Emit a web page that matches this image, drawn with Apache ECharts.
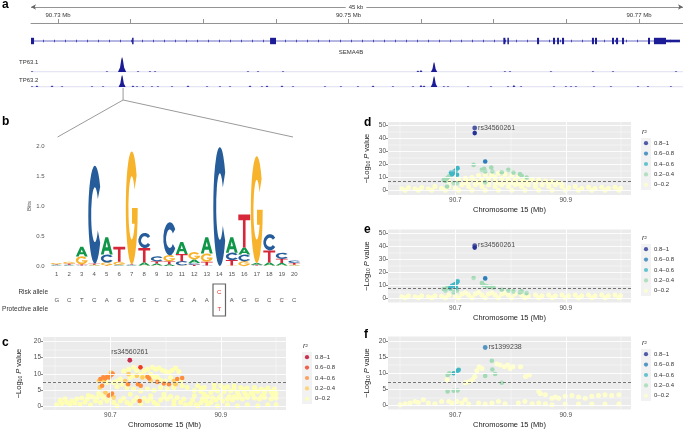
<!DOCTYPE html>
<html><head><meta charset="utf-8">
<script src="https://cdn.jsdelivr.net/npm/echarts@6/dist/echarts.min.js"></script>
<style>html,body{margin:0;padding:0;background:#fff}#chart{width:683px;height:430px}</style>
</head><body><div id="chart"></div>
<script>
// ---------------- Panel a: genome browser ----------------
const regionStart = 90.72814, regionEnd = 90.77303;
const regionLabel = '45 kb';
const rulerTicks = [90.730,90.735,90.740,90.745,90.750,90.755,90.760,90.765,90.770];
const rulerLabels = [90.73,90.75,90.77];
const geneName = 'SEMA4B';
const geneSpan = [90.72821, 90.77282];
// [start Mb, end Mb, coding(1)/UTR(0)]
const exons = [[90.72814,90.72835,1],[90.73510,90.73520,1],[90.74460,90.74501,1],[90.76066,90.76080,1],[90.76094,90.76102,1],[90.76298,90.76312,1],[90.76408,90.76422,1],[90.76436,90.76449,1],[90.76470,90.76484,1],[90.76676,90.76690,1],[90.76697,90.76711,1],[90.76814,90.76828,1],[90.76842,90.76856,1],[90.76883,90.76897,1],[90.77062,90.77076,1],[90.77103,90.77186,1],[90.77186,90.77282,0]];
const trackNames = ['TP63.1','TP63.2'];
// [position Mb, coverage]
const tp631Peaks = [[90.72821,1],[90.73337,1],[90.73441,15],[90.73551,1],[90.73633,1],[90.73668,1],[90.74308,1],[90.74377,1],[90.74549,1],[90.75478,1.5],[90.75499,2],[90.75589,10],[90.76077,1],[90.76112,1],[90.76394,1],[90.76683,1],[90.76821,1],[90.77255,1]];
const tp632Peaks = [[90.72821,1],[90.72855,1.5],[90.72959,1.5],[90.73028,1],[90.73234,1],[90.73310,1],[90.73441,12],[90.73516,1.5],[90.73544,1],[90.73585,1],[90.73647,1],[90.73688,1],[90.73785,1],[90.73895,1.5],[90.74026,1],[90.74115,1],[90.74184,1],[90.74322,1.5],[90.74404,1],[90.74439,1.5],[90.74542,1.5],[90.74618,1],[90.74838,1],[90.74948,1],[90.75065,1],[90.75169,1.5],[90.75306,1],[90.75444,1],[90.75499,2],[90.75520,1.5],[90.75589,11],[90.75657,1],[90.75685,1],[90.75823,1],[90.75981,1],[90.76098,1],[90.76139,2],[90.76188,1],[90.76415,1],[90.76497,1],[90.76532,1],[90.76566,1],[90.76690,1],[90.76807,1],[90.76993,1],[90.77062,1],[90.77220,1]];
const motifSite = 90.73448;
const zoomSpan = [90.72997, 90.74618];

// ---------------- Panel b: motif logo ----------------
const positions = [1,2,3,4,5,6,7,8,9,10,11,12,13,14,15,16,17,18,19,20];
const bitsA = [0.01,0.01,0.16,0.01,0.29,0.01,0.01,0.05,0.03,0.03,0.20,0.06,0.27,0.00,0.26,0.12,0.03,0.05,0.04,0.01];
const bitsC = [0.01,0.01,0.01,1.63,0.13,0.01,0.01,0.25,0.08,0.55,0.07,0.03,0.01,1.98,0.12,0.11,0.01,0.27,0.10,0.04];
const bitsG = [0.02,0.03,0.13,0.01,0.05,0.05,1.88,0.01,0.01,0.10,0.01,0.12,0.14,0.00,0.01,0.08,1.78,0.01,0.01,0.01];
const bitsT = [0.01,0.02,0.02,0.02,0.01,0.25,0.01,0.24,0.04,0.05,0.12,0.02,0.06,0.00,0.09,0.55,0.01,0.20,0.07,0.03];
const refSeq = ['G','C','T','C','A','G','G','C','C','C','C','A','A','','A','G','G','C','C','C'];
const snpPos = 14, riskAllele = 'C', protectiveAllele = 'T';
const logoTicks = [0,0.5,1,1.5,2];

// ---------------- Panels c-f: regional association ----------------
const r2Classes = ['0–0.2','0.2–0.4','0.4–0.6','0.6–0.8','0.8–1'];
const xTicks = [90.7, 90.9];
const xMinor = [90.6, 90.8, 91.0];
const gwsThreshold = 7.3;
const yTicks20 = [0,5,10,15,20], yMinor20 = [2.5,7.5,12.5,17.5];
const yTicks50 = [0,10,20,30,40,50], yMinor50 = [5,15,25,35,45];

const cR0 = [[90.724,10.9],[90.733,11.4],[90.742,12.0],[90.748,11.1],[90.761,10.9],[90.767,11.4],[90.776,12.0],[90.782,11.4],[90.788,11.8],[90.794,11.1],[90.800,10.7],[90.806,10.4],[90.812,11.1],[90.818,11.8],[90.824,10.7],[90.773,9.9],[90.779,9.1],[90.785,8.9],[90.791,8.0],[90.800,7.8],[90.809,8.9],[90.827,7.8],[90.712,7.8],[90.718,8.4],[90.706,7.3],[90.736,8.9],[90.742,9.4],[90.755,9.9],[90.761,9.1],[90.694,7.3],[90.721,6.8],[90.712,6.0],[90.730,5.8],[90.742,5.3],[90.755,4.7],[90.767,5.3],[90.779,4.9],[90.791,5.8],[90.803,5.3],[90.815,5.8],[90.830,6.3],[90.839,5.8],[90.736,3.7],[90.773,3.2],[90.797,3.7],[90.685,3.2],[90.679,3.9],
[90.858,6.3],[90.870,5.8],[90.888,6.6],[90.900,6.3],[90.912,6.0],[90.924,6.3],[90.936,5.8],[90.948,5.6],[90.961,5.8],[90.973,5.3],[90.985,5.6],[90.997,5.3],[90.864,4.5],[90.882,4.2],[90.894,4.7],[90.906,4.5],[90.918,4.7],[90.930,4.2],[90.942,4.5],[90.955,4.2],[90.967,4.5],[90.979,4.2],[90.991,4.5],[91.000,3.9],[90.852,3.2],[90.876,2.9],[90.900,3.2],[90.924,2.9],[90.948,3.2],[90.973,2.9],[90.997,2.9],
[90.603,0.4],[90.612,0.8],[90.621,1.1],[90.630,1.6],[90.639,2.2],[90.648,2.5],[90.658,2.2],[90.667,2.9],[90.673,1.6],[90.627,0.4],[90.645,0.6],[90.664,0.4],[90.682,1.1],[90.694,1.6],[90.706,1.1],[90.718,1.6],[90.730,1.1],[90.742,1.6],[90.755,0.8],[90.767,1.6],[90.779,1.1],[90.791,1.9],[90.803,2.2],[90.815,1.6],[90.827,1.1],[90.836,0.4],[90.845,0.8],[90.855,0.4],[90.864,1.1],[90.873,1.6],[90.882,1.1],[90.891,1.9],[90.903,1.6],[90.912,2.2],[90.921,1.9],[90.930,2.5],[90.939,2.2],[90.948,2.7],[90.961,2.5],[90.970,2.2],[90.979,2.7],[90.991,2.2],[91.000,2.5],[90.858,0.1],[90.876,0.4],[90.894,0.1],[90.912,0.4],[90.930,0.1],[90.948,0.4],[90.967,0.1],[90.985,0.4],[91.000,0.4],[90.712,0.1],[90.736,0.4],[90.785,0.4],[90.815,0.4],
[90.609,1.8],[90.618,2.3],[90.636,1.0],[90.654,1.2],[90.660,3.3],[90.676,2.6],[90.688,2.4],[90.700,2.6],[90.724,2.4],[90.748,2.6],[90.761,2.4],[90.773,2.3],[90.797,2.8],[90.809,3.0],[90.821,2.6],[90.833,2.2],[90.849,1.9],[90.867,2.3],[90.885,2.6],[90.897,2.6],[90.915,3.0],[90.933,3.4],[90.945,3.6],[90.958,3.5],[90.976,3.4],[90.994,3.6],[90.852,4.8],[90.864,5.5],[90.870,3.7],[90.888,5.2],[90.906,5.5],[90.924,5.3],[90.942,5.2],[90.961,4.9],[90.979,4.9],[90.997,4.4]];
const cR2 = [[90.679,7.8],[90.688,7.8],[90.701,10.4],[90.681,5.8],[90.727,7.8],[90.748,9.4],[90.758,8.9],[90.733,9.9],[90.773,7.8],[90.815,7.8],[90.691,4.2],[90.706,2.7],[90.818,6.8]];
const cR4 = [[90.682,8.4],[90.687,8.9],[90.691,8.6],[90.694,9.1],[90.698,8.9],[90.702,9.7],[90.704,10.1],[90.685,6.3],[90.697,3.2],[90.700,3.5],[90.703,3.9],[90.732,6.8],[90.750,6.8],[90.755,6.3],[90.767,9.1],[90.770,8.6],[90.785,7.5],[90.797,7.0],[90.806,6.8],[90.821,8.4],[90.830,8.7],[90.753,1.6]];
const cR6 = [[90.7545,12.0]];
const cR8 = [];
const cLead = {name:'rs34560261', value:[90.7352,14.2], cls:4};

const dR0 = [[90.688,6.9],[90.706,8.2],[90.718,9.5],[90.730,10.0],[90.742,11.5],[90.754,12.1],[90.766,12.1],[90.778,13.3],[90.790,12.6],[90.802,11.5],[90.814,10.8],[90.826,9.5],[90.839,8.7],[90.851,8.2],[90.863,7.4],[90.875,6.9],[90.887,6.2],[90.724,6.9],[90.736,7.4],[90.748,8.7],[90.760,9.0],[90.772,10.0],[90.784,9.5],[90.796,9.0],[90.808,8.2],[90.820,7.4],[90.832,6.4],[90.772,6.9],[90.790,6.4],
[90.603,1.3],[90.615,2.3],[90.627,1.3],[90.639,2.3],[90.651,1.3],[90.663,3.1],[90.675,1.8],[90.688,3.1],[90.700,1.8],[90.712,4.4],[90.724,3.1],[90.736,4.4],[90.748,3.1],[90.760,4.4],[90.772,3.1],[90.784,4.4],[90.796,3.1],[90.808,4.4],[90.820,3.1],[90.832,4.4],[90.845,3.1],[90.857,4.4],[90.869,3.1],[90.881,4.4],[90.893,3.1],[90.905,2.3],[90.917,3.1],[90.929,1.8],[90.941,2.6],[90.953,1.8],[90.965,2.6],[90.977,1.8],[90.989,2.6],[90.999,1.8],
[90.609,0.3],[90.633,0.3],[90.657,0.3],[90.682,0.3],[90.706,0.3],[90.730,0.3],[90.754,0.3],[90.778,0.3],[90.802,0.3],[90.826,0.3],[90.851,0.3],[90.875,0.3],[90.899,0.3],[90.923,0.3],[90.947,0.3],[90.971,0.3],[90.996,0.3],
[90.700,5.5],[90.718,6.0],[90.742,6.0],[90.760,6.5],[90.800,6.0],[90.826,5.6],[90.845,6.0],[90.869,5.4],[90.893,4.9],[90.748,5.2],[90.778,5.8],[90.814,5.2]];
const dR2 = [[90.733,19.7],[90.748,15.9],[90.752,16.7],[90.754,14.6],[90.765,17.7],[90.767,14.6],[90.784,14.1],[90.796,15.9],[90.805,13.8],[90.817,12.6],[90.820,11.3],[90.829,10.0],[90.679,8.2],[90.685,9.5],[90.688,10.8],[90.691,11.5],[90.682,7.4],[90.697,5.6],[90.703,5.6],[90.754,6.2],[90.685,3.1]];
const dR4 = [[90.692,13.8],[90.695,13.3],[90.698,14.6],[90.701,15.6],[90.704,17.2],[90.703,12.1],[90.694,12.6]];
const dR6 = [[90.754,22.3]];
const dR8 = [[90.735,44.1]];
const dLead = {name:'rs34560261', value:[90.735,48.0], cls:4};

const eR0 = [[90.603,1.0],[90.615,1.8],[90.627,1.0],[90.639,1.8],[90.651,1.0],[90.663,1.8],[90.675,1.3],[90.688,2.3],[90.700,1.8],[90.712,3.1],[90.724,2.3],[90.736,3.1],[90.748,2.3],[90.760,3.1],[90.772,2.3],[90.784,3.1],[90.796,2.3],[90.808,3.1],[90.820,2.3],[90.832,1.8],[90.845,2.3],[90.857,1.8],[90.869,2.3],[90.881,1.8],[90.893,2.3],[90.905,1.8],[90.917,2.3],[90.929,1.8],[90.941,2.3],[90.953,1.8],[90.965,2.3],[90.977,1.8],[90.989,2.3],[90.999,1.8],
[90.609,0.3],[90.633,0.3],[90.657,0.3],[90.682,0.3],[90.706,0.3],[90.730,0.3],[90.754,0.3],[90.778,0.3],[90.802,0.3],[90.826,0.3],[90.851,0.3],[90.875,0.3],[90.899,0.3],[90.923,0.3],[90.947,0.3],[90.971,0.3],[90.996,0.3],[90.718,4.0],[90.742,4.2],[90.766,4.0],[90.790,3.8]];
const eR2 = [[90.733,15.4],[90.748,11.5],[90.751,10.0],[90.757,9.0],[90.765,8.7],[90.769,8.2],[90.784,6.4],[90.796,5.6],[90.805,5.1],[90.817,4.4],[90.820,5.1],[90.829,3.8],[90.679,6.9],[90.685,7.9],[90.691,6.9],[90.697,4.4],[90.703,5.6],[90.682,5.6]];
const eR4 = [[90.694,9.5],[90.697,10.0],[90.700,10.8],[90.703,12.1],[90.704,13.1],[90.691,8.2],[90.701,8.2]];
const eR6 = [[90.754,15.1]];
const eR8 = [[90.735,38.7]];
const eLead = {name:'rs34560261', value:[90.735,40.3], cls:4};

const fR0 = [[90.685,8.0],[90.718,7.1],[90.724,7.4],[90.731,8.0],[90.735,9.0],[90.739,10.8],[90.743,12.0],[90.748,11.5],[90.775,12.9],[90.781,12.6],[90.789,12.0],[90.795,12.6],[90.799,11.5],[90.804,12.0],[90.818,12.0],[90.827,9.0],[90.834,9.5],[90.600,0.3],[90.609,0.6],[90.618,0.8],[90.627,1.3],[90.633,1.0],[90.642,1.8],[90.651,0.8],[90.663,0.6],[90.675,1.3],[90.688,1.3],[90.694,0.8],[90.703,1.3],[90.712,0.8],[90.724,0.5],[90.742,0.8],[90.754,0.5],[90.766,0.8],[90.778,1.3],[90.790,0.6],[90.814,0.8],[90.826,1.3],[90.839,0.6],[90.851,4.4],[90.854,3.7],[90.863,3.4],[90.875,2.3],[90.881,2.7],[90.887,2.3],[90.899,2.9],[90.911,3.1],[90.923,2.7],[90.935,2.3],[90.947,2.9],[90.959,3.1],[90.971,3.4],[90.983,3.1],[90.996,3.4],[90.851,0.8],[90.863,0.6],[90.875,0.3],[90.899,0.5],[90.923,0.5],[90.947,0.5],[90.971,0.5],[90.996,0.5],[90.718,1.8]];
const fR2 = [[90.686,9.5],[90.689,10.0],[90.766,13.9],[90.767,11.2],[90.772,9.8],[90.754,9.2],[90.784,7.1],[90.686,4.4],[90.697,4.6],[90.704,4.7]];
const fR4 = [[90.697,10.0],[90.704,10.8],[90.706,11.1]];
const fR6 = [];
const fR8 = [];
const fLead = {name:'rs1399238', value:[90.754,18.0], cls:3};

// ---------------- styling ----------------
const FONT = '"Liberation Sans", Arial, sans-serif';
const NAVY = '#1c1c96';
const palC = ['#ffffb2','#fecc5c','#fd8d3c','#f03b20','#bd0026'];
const palBlue = ['#ffffcc','#a1dab4','#41b6c4','#2c7fb8','#253494'];
const baseColor = {A:'#109648', C:'#255C99', G:'#F7B32B', T:'#D62839'};
const glyph = {
  A:'M0,100 L38,0 L62,0 L100,100 L76,100 L68,78 L32,78 L24,100 Z M40,58 L60,58 L50,28 Z',
  T:'M0,0 L100,0 L100,18 L61,18 L61,100 L39,100 L39,18 L0,18 Z',
  C:'M91,21.3 A50,50 0 1 0 91,78.7 L72.9,66.1 A28,28 0 1 1 72.9,33.9 Z',
  G:'M91,21.3 A50,50 0 1 0 100,50 L52,50 L52,64 L74.2,64 A28,28 0 1 1 72.9,33.9 Z'
};
const bitsOf = {A:bitsA, C:bitsC, G:bitsG, T:bitsT};

const grid = [
  {left:31, top:0, width:652, height:140},
  {left:31, top:56, width:652, height:16},
  {left:31, top:71, width:652, height:16},
  {left:50.5, top:146, width:250, height:120},
  {left:50.5, top:283, width:250, height:34},
  {left:43, top:337, width:243, height:73, show:true, backgroundColor:'#ebebeb', borderWidth:0},
  {left:388, top:122, width:243, height:73, show:true, backgroundColor:'#ebebeb', borderWidth:0},
  {left:388, top:229.5, width:243, height:73, show:true, backgroundColor:'#ebebeb', borderWidth:0},
  {left:388, top:336.5, width:243, height:73, show:true, backgroundColor:'#ebebeb', borderWidth:0},
  {left:302, top:352, width:10, height:52, show:true, backgroundColor:'#f2f2f2', borderWidth:0},
  {left:641, top:138, width:10, height:52, show:true, backgroundColor:'#f2f2f2', borderWidth:0},
  {left:641, top:244, width:10, height:52, show:true, backgroundColor:'#f2f2f2', borderWidth:0},
  {left:641, top:349, width:10, height:52, show:true, backgroundColor:'#f2f2f2', borderWidth:0}
];

const xAxis = [], yAxis = [];
xAxis.push({gridIndex:0, type:'value', min:regionStart, max:regionEnd, position:'top', offset:-23,
  axisLine:{show:true, lineStyle:{color:'#777', width:0.8}},
  axisTick:{show:true, customValues:rulerTicks, length:4, lineStyle:{color:'#777', width:0.8}},
  axisLabel:{show:true, customValues:rulerLabels, formatter:v=>v.toFixed(2)+' Mb', fontSize:6, color:'#333', margin:5, fontFamily:FONT},
  splitLine:{show:false}});
yAxis.push({gridIndex:0, type:'value', min:0, max:140, inverse:true, show:false});
for (let g=1; g<=2; g++){
  xAxis.push({gridIndex:g, type:'value', min:regionStart, max:regionEnd, show:false});
  yAxis.push({gridIndex:g, type:'value', min:0, max:16, show:false});
}
xAxis.push({gridIndex:3, type:'value', min:0.5, max:20.5, axisLine:{show:false}, axisTick:{show:false}, splitLine:{show:false},
  axisLabel:{customValues:positions, fontSize:6, color:'#555', margin:5, fontFamily:FONT}});
yAxis.push({gridIndex:3, type:'value', min:0, max:2, axisLine:{show:false}, axisTick:{show:false}, splitLine:{show:false},
  axisLabel:{customValues:logoTicks, formatter:v=>v.toFixed(1), fontSize:6, color:'#555', margin:6, fontFamily:FONT},
  name:'Bits', nameLocation:'middle', nameGap:16, nameTextStyle:{fontSize:6, color:'#555', fontFamily:FONT}});
xAxis.push({gridIndex:4, type:'value', min:0.5, max:20.5, show:false});
yAxis.push({gridIndex:4, type:'value', min:0, max:34, inverse:true, show:false});
const yNameRich = '{a|−Log}{b|10}{a| }{c|P}{a| value}';
function assocAxes(g, ymin, ymax, yt){
  xAxis.push({gridIndex:g, type:'value', min:90.578, max:91.018, axisLine:{show:false}, splitLine:{show:false},
    axisTick:{show:true, customValues:xTicks, length:2, lineStyle:{color:'#333', width:0.6}},
    axisLabel:{customValues:xTicks, formatter:v=>v.toFixed(1), fontSize:6.5, color:'#4d4d4d', margin:2, fontFamily:FONT},
    name:'Chromosome 15 (Mb)', nameLocation:'middle', nameGap:11, nameTextStyle:{fontSize:7.5, color:'#222', fontFamily:FONT}});
  yAxis.push({gridIndex:g, type:'value', min:ymin, max:ymax, axisLine:{show:false}, splitLine:{show:false},
    axisTick:{show:true, customValues:yt, length:2, lineStyle:{color:'#333', width:0.6}},
    axisLabel:{customValues:yt, fontSize:6.5, color:'#4d4d4d', margin:2, fontFamily:FONT},
    name:yNameRich, nameLocation:'middle', nameRotate:90, nameGap:g===5?20:17,
    nameTextStyle:{fontSize:7.5, color:'#222', fontFamily:FONT,
      rich:{a:{fontSize:7.5, color:'#222', fontFamily:FONT}, b:{fontSize:5, color:'#222', fontFamily:FONT, padding:[4,0,0,0]}, c:{fontSize:7.5, color:'#222', fontStyle:'italic', fontFamily:FONT}}}});
}
assocAxes(5, -1.2, 21.4, yTicks20);
assocAxes(6, -3.4, 52.6, yTicks50);
assocAxes(7, -3.4, 52.6, yTicks50);
assocAxes(8, -1.2, 21.4, yTicks20);
const legendCats = r2Classes.slice();
for (let g=9; g<=12; g++){
  xAxis.push({gridIndex:g, type:'category', data:['k'], show:false});
  yAxis.push({gridIndex:g, type:'category', data:legendCats, position:'right', axisLine:{show:false}, axisTick:{show:false}, splitLine:{show:false},
    axisLabel:{fontSize:6, color:'#333', margin:3, fontFamily:FONT}});
}

const series = [];
// ---- panel a ----
series.push({type:'line', xAxisIndex:0, yAxisIndex:0, data:[], silent:true,
  markLine:{silent:true, symbol:['arrow','arrow'], symbolSize:[4,5], animation:false,
    lineStyle:{color:'#666', width:0.7, type:'solid'}, label:{show:false},
    data:[[{coord:[regionStart,7]},{coord:[regionEnd,7]}]]}});
series.push({type:'line', xAxisIndex:0, yAxisIndex:0, data:geneSpan.map(x=>[x,41]), symbol:'none', silent:true,
  lineStyle:{color:'#4848b8', width:0.8}, z:3});
series.push({type:'line', xAxisIndex:0, yAxisIndex:0, data:geneSpan.map(x=>[x,41]), symbol:'none', silent:true,
  lineStyle:{color:'#4848b8', width:2.6, type:[1,10]}, z:3});
series.push({type:'custom', xAxisIndex:0, yAxisIndex:0, data:exons, silent:true, z:4,
  renderItem:function(params, api){
    const s = api.coord([api.value(0), 41]), e = api.coord([api.value(1), 41]);
    const hh = api.value(2) ? 3.2 : 1.3;
    const w = Math.max(1.5, e[0]-s[0]);
    return {type:'rect', shape:{x:s[0], y:s[1]-hh, width:w, height:2*hh}, style:{fill:NAVY}};
  }});
[tp631Peaks, tp632Peaks].forEach((peaks, t)=>{
  const g = t+1;
  series.push({type:'line', xAxisIndex:g, yAxisIndex:g, data:[[regionStart,0],[regionEnd,0]], symbol:'none', silent:true,
    lineStyle:{color:'#a8a8dc', width:0.6}, z:2});
  series.push({type:'custom', xAxisIndex:g, yAxisIndex:g, data:peaks, silent:true, z:3, clip:false,
    renderItem:function(params, api){
      const b = api.coord([api.value(0), 0]), tp = api.coord([api.value(0), api.value(1)]);
      const ph = b[1]-tp[1];
      const hw = 1.4 + ph*0.18;
      return {type:'polygon', shape:{points:[[b[0]-hw,b[1]],[b[0]-hw*0.5,b[1]-ph*0.3],[b[0]-hw*0.18,tp[1]+ph*0.15],[b[0],tp[1]],[b[0]+hw*0.18,tp[1]+ph*0.15],[b[0]+hw*0.5,b[1]-ph*0.3],[b[0]+hw,b[1]]]},
        style:{fill:NAVY}};
    }});
});
series.push({type:'line', xAxisIndex:0, yAxisIndex:0, data:[[motifSite,88],[motifSite,100]], symbol:'none', silent:true,
  lineStyle:{color:'#9a9a9a', width:1}});
series.push({type:'line', xAxisIndex:0, yAxisIndex:0, data:[[zoomSpan[0],137],[motifSite,100],[zoomSpan[1],137]], symbol:'none', silent:true,
  lineStyle:{color:'#9a9a9a', width:1}});

// ---- panel b: logo ----
series.push({type:'custom', xAxisIndex:3, yAxisIndex:3, data:positions.map(p=>[p]), silent:true, clip:false,
  renderItem:function(params, api){
    const p = api.value(0), i = params.dataIndex;
    const stack = ['A','C','G','T'].map(b=>[b, bitsOf[b][i]]).filter(d=>d[1]>0).sort((a,b)=>a[1]-b[1]);
    let cum = 0; const children = [];
    stack.forEach(([b,h])=>{
      const tl = api.coord([p-0.475, cum+h]), br = api.coord([p+0.475, cum]);
      children.push({type:'path', shape:{pathData:glyph[b], x:tl[0], y:tl[1], width:br[0]-tl[0], height:Math.max(0.3, br[1]-tl[1]), layout:'cover'},
        style:{fill:baseColor[b]}});
      cum += h;
    });
    return {type:'group', children};
  }});
series.push({type:'custom', xAxisIndex:4, yAxisIndex:4, data:positions.map(p=>[p]), silent:true, clip:false,
  renderItem:function(params, api){
    const b = refSeq[params.dataIndex];
    const c = api.coord([api.value(0), 17]);
    return {type:'text', style:{text:b, x:c[0], y:c[1], align:'center', verticalAlign:'middle', fill:'#555', font:'6px '+FONT}};
  }});
series.push({type:'custom', xAxisIndex:4, yAxisIndex:4, data:[[snpPos]], silent:true, clip:false,
  renderItem:function(params, api){
    const p = api.value(0);
    const tl = api.coord([p-0.5, 1]), br = api.coord([p+0.5, 33]);
    const r = api.coord([p, 9]), q = api.coord([p, 26]);
    return {type:'group', children:[
      {type:'rect', shape:{x:tl[0], y:tl[1], width:br[0]-tl[0], height:br[1]-tl[1]}, style:{fill:'none', stroke:'#666', lineWidth:1.2}},
      {type:'text', style:{text:riskAllele, x:r[0], y:r[1], align:'center', verticalAlign:'middle', fill:'#e0302a', font:'6px '+FONT}},
      {type:'text', style:{text:protectiveAllele, x:q[0], y:q[1], align:'center', verticalAlign:'middle', fill:'#e0302a', font:'6px '+FONT}}
    ]};
  }});

// ---- panels c-f ----
function assocPanel(g, classes, pal, lead, labelPos, yMaj, yMin){
  const gl = [];
  yMaj.forEach(v=>gl.push({yAxis:v, lineStyle:{width:0.9}}));
  yMin.forEach(v=>gl.push({yAxis:v, lineStyle:{width:0.45}}));
  xTicks.forEach(v=>gl.push({xAxis:v, lineStyle:{width:0.9}}));
  xMinor.forEach(v=>gl.push({xAxis:v, lineStyle:{width:0.45}}));
  series.push({type:'scatter', xAxisIndex:g, yAxisIndex:g, data:[], silent:true, z:1,
    markLine:{silent:true, symbol:'none', animation:false, label:{show:false}, lineStyle:{color:'#ffffff', type:'solid'}, data:gl}});
  classes.forEach((arr,k)=>{
    series.push({type:'scatter', xAxisIndex:g, yAxisIndex:g, data:arr, symbolSize:k===0?5:4.6, silent:true, z:2+k,
      itemStyle:{color:pal[k], opacity:1}});
  });
  series.push({type:'scatter', xAxisIndex:g, yAxisIndex:g, data:[], silent:true, z:8,
    markLine:{silent:true, symbol:'none', animation:false, label:{show:false},
      lineStyle:{color:'#555', type:[3,2], width:0.8}, data:[{yAxis:gwsThreshold}]}});
  series.push({type:'scatter', xAxisIndex:g, yAxisIndex:g, data:[{name:lead.name, value:lead.value}], symbolSize:4.8, silent:true, z:9,
    itemStyle:{color:pal[lead.cls]},
    label:{show:true, formatter:'{b}', position:labelPos, distance:labelPos==='top'?2:1, fontSize:7, color:'#222', fontFamily:FONT}});
}
assocPanel(5, [cR0,cR2,cR4,cR6,cR8], palC, cLead, 'top', yTicks20, yMinor20);
assocPanel(6, [dR0,dR2,dR4,dR6,dR8], palBlue, dLead, 'right', yTicks50, yMinor50);
assocPanel(7, [eR0,eR2,eR4,eR6,eR8], palBlue, eLead, 'right', yTicks50, yMinor50);
assocPanel(8, [fR0,fR2,fR4,fR6,fR8], palBlue, fLead, 'right', yTicks20, yMinor20);

[[9,palC],[10,palBlue],[11,palBlue],[12,palBlue]].forEach(([g,pal])=>{
  series.push({type:'scatter', xAxisIndex:g, yAxisIndex:g, silent:true, symbolSize:4.2,
    data:legendCats.map((c,i)=>({value:['k',c], itemStyle:{color:pal[i]}}))});
});

const txt = (x,y,text,opt)=>({type:'text', x, y, z:100, style:Object.assign({text, fill:'#333', font:'6px '+FONT, verticalAlign:'middle'}, opt||{})});
const graphic = [
  txt(2,5,'a',{font:'bold 12px '+FONT, fill:'#000'}),
  txt(2,122,'b',{font:'bold 12px '+FONT, fill:'#000'}),
  txt(2,343,'c',{font:'bold 12px '+FONT, fill:'#000'}),
  txt(364,123,'d',{font:'bold 12px '+FONT, fill:'#000'}),
  txt(364,230,'e',{font:'bold 12px '+FONT, fill:'#000'}),
  txt(364,335,'f',{font:'bold 12px '+FONT, fill:'#000'}),
  txt(356,7,regionLabel,{align:'center', backgroundColor:'#fff', padding:[0,3]}),
  txt(19,62,trackNames[0]),
  txt(19,80,trackNames[1]),
  txt(351,52,geneName,{align:'center'}),
  txt(48,292,'Risk allele',{align:'right', font:'6.5px '+FONT}),
  txt(48,309,'Protective allele',{align:'right', font:'6.5px '+FONT}),
  txt(303,346,'r²',{font:'italic 7px '+FONT}),
  txt(642,132,'r²',{font:'italic 7px '+FONT}),
  txt(642,238,'r²',{font:'italic 7px '+FONT}),
  txt(642,343,'r²',{font:'italic 7px '+FONT})
];

const chart = echarts.init(document.getElementById('chart'), null, {renderer:'canvas'});
chart.setOption({animation:false, textStyle:{fontFamily:FONT}, grid, xAxis, yAxis, series, graphic});
</script></body></html>
